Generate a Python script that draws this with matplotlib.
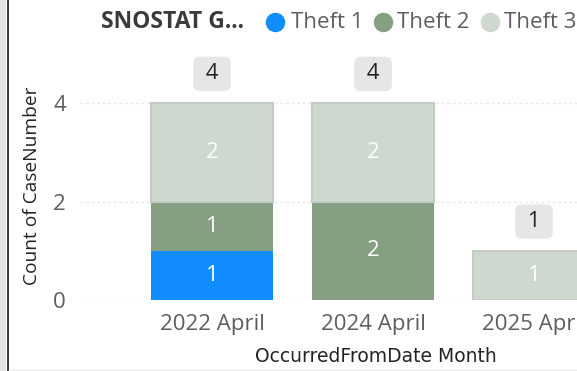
import numpy as np
import matplotlib.pyplot as plt
from matplotlib.lines import Line2D
from matplotlib.patches import Rectangle

# data
months = ['2022 April', '2024 April', '2025 April']
theft1 = [1, 0, 0]
theft2 = [1, 2, 0]
theft3 = [2, 2, 1]
series_names = ['Theft 1', 'Theft 2', 'Theft 3']
colors = ['#118DFF', '#869F82', '#CFD8CE']

plt.rcParams['font.family'] = ['Open Sans', 'DejaVu Sans']

W, H = 577, 371
fig = plt.figure(figsize=(W / 100, H / 100), dpi=100)

# axes placement in pixels (left, bottom, right, top)
L, B, R, T = 80, 71, 577, 311
ax = fig.add_axes([L / W, B / H, (R - L) / W, (T - B) / H])

x = np.arange(len(months))
width = 0.758
bottom = np.zeros(len(months))
for vals, col in zip([theft1, theft2, theft3], colors):
    vals = np.array(vals, dtype=float)
    ec = '#C3CCC2' if col == colors[2] else 'none'
    ax.bar(x, vals, width, bottom=bottom, color=col, edgecolor=ec,
           linewidth=1.5 if ec != 'none' else 0, zorder=2)
    for xi, v, b in zip(x, vals, bottom):
        if v > 0:
            ax.text(xi, b + v / 2, f'{int(v)}', ha='center', va='center',
                    color='white', fontsize=16, zorder=3)
    bottom += vals

totals = bottom
for xi, t in zip(x, totals):
    ax.annotate(f' {int(t)} ', (xi, t), xytext=(0, 21), textcoords='offset points',
                ha='center', va='center', fontsize=16, color='#252423',
                bbox=dict(boxstyle='round,pad=0.3,rounding_size=0.3',
                          fc='#E6E6E6', ec='none'),
                annotation_clip=False, zorder=4)

ax.set_xlim(-0.82, -0.82 + (R - L) / 161)
ax.set_ylim(0, (T - B) / 49.25)
ax.set_yticks([0, 2, 4])
ax.set_xticks(x)
ax.set_xticklabels(months)
ax.tick_params(axis='both', length=0, labelsize=16, labelcolor='#605E5C')
ax.tick_params(axis='y', pad=10)
ax.tick_params(axis='x', pad=10)
ax.grid(axis='y', color='#E9E9E9', linestyle=(0, (2, 2)), linewidth=1, zorder=0)
ax.set_axisbelow(True)
for s in ax.spines.values():
    s.set_visible(False)

fig.text(32 / W, 1 - 186 / H, 'Count of CaseNumber', rotation=90,
         ha='center', va='center', fontsize=13.8, color='#252423')
fig.text(376 / W, 1 - 356 / H, 'OccurredFromDate Month', ha='center',
         va='center', fontsize=13.5, color='#252423', family='DejaVu Sans')

# legend row
ly = 1 - 22 / H
fig.text(101 / W, ly, 'SNOSTAT G...', ha='left', va='center', fontsize=16.5,
         fontweight='bold', color='#3B3A39')
for cx, tx, name, col in zip([275, 383, 490], [291, 397, 504], series_names, colors):
    fig.add_artist(Line2D([cx / W], [ly], marker='o', markersize=13,
                          color=col, transform=fig.transFigure))
    fig.text(tx / W, ly, name, ha='left', va='center', fontsize=16,
             color='#605E5C')

# left frame edge and bottom rule
fig.add_artist(Rectangle((0, 0), 6 / W, 1, transform=fig.transFigure,
                         fc='#E2E2E2', ec='none'))
fig.add_artist(Rectangle((7 / W, 0), 2 / W, 1, transform=fig.transFigure,
                         fc='#3A3A3A', ec='none'))
fig.add_artist(Line2D([9 / W, 1], [1.5 / H, 1.5 / H], color='#EAEAEA',
                      linewidth=1, transform=fig.transFigure))

fig.savefig('out.png', dpi=100)
